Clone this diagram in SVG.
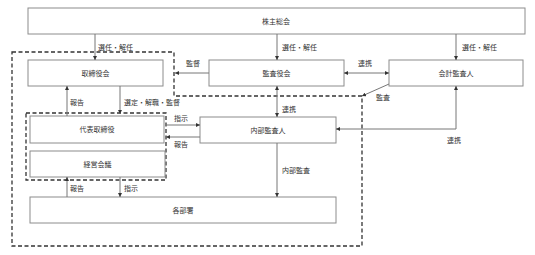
<svg xmlns="http://www.w3.org/2000/svg" width="535" height="255" viewBox="0 0 535 255">
<style>
.box{fill:#fff;stroke:#8c8c8c;stroke-width:1}
.t{font-family:"Noto Sans CJK JP","Noto Sans CJK SC",sans-serif;font-size:7px;fill:#333}
.c{text-anchor:middle}
.ln{fill:none;stroke:#777;stroke-width:1}
.dash{fill:none;stroke:#333;stroke-width:1.3;stroke-dasharray:4 2.5}
</style>
<defs>
<marker id="a" viewBox="0 0 6 6" refX="6" refY="3" markerWidth="4" markerHeight="4" orient="auto-start-reverse" markerUnits="userSpaceOnUse">
<path d="M0,0 L6,3 L0,6 z" fill="#333"/>
</marker>
</defs>
<rect width="535" height="255" fill="#fff"/>
<g id="dashed">
<path class="dash" d="M12,52 H174 V96 H362 V246 H12 Z"/>
<rect class="dash" x="26" y="113" width="140" height="67"/>
</g>
<g id="n-kabunushi"><rect class="box" x="28" y="8" width="497" height="26"/><text class="t c" x="276" y="23.5">株主総会</text></g>
<g id="n-torishimariyaku"><rect class="box" x="28" y="60" width="135" height="26"/><text class="t c" x="95.5" y="75.5">取締役会</text></g>
<g id="n-kansayaku"><rect class="box" x="209" y="60" width="135" height="26"/><text class="t c" x="276.5" y="75.5">監査役会</text></g>
<g id="n-kaikei"><rect class="box" x="389" y="60" width="134" height="26"/><text class="t c" x="456" y="75.5">会計監査人</text></g>
<g id="n-daihyo"><rect class="box" x="30" y="116" width="134" height="27"/><text class="t c" x="97" y="132">代表取締役</text></g>
<g id="n-keiei"><rect class="box" x="30" y="151" width="135" height="26"/><text class="t c" x="97.5" y="166.5">経営会議</text></g>
<g id="n-naibu"><rect class="box" x="200" y="117" width="136" height="26"/><text class="t c" x="268" y="132.5">内部監査人</text></g>
<g id="n-kakubusho"><rect class="box" x="30" y="197" width="306" height="26"/><text class="t c" x="183" y="212.5">各部署</text></g>
<g id="connectors">
<line class="ln" x1="95" y1="34" x2="95" y2="60" marker-end="url(#a)"/>
<line class="ln" x1="277" y1="34" x2="277" y2="60" marker-end="url(#a)"/>
<line class="ln" x1="456" y1="34" x2="456" y2="60" marker-end="url(#a)"/>
<line class="ln" x1="209" y1="73" x2="175" y2="73" marker-end="url(#a)"/>
<line class="ln" x1="344" y1="73" x2="389" y2="73" marker-start="url(#a)" marker-end="url(#a)"/>
<line class="ln" x1="389" y1="84" x2="362" y2="96" marker-end="url(#a)"/>
<line class="ln" x1="277" y1="86" x2="277" y2="117" marker-start="url(#a)" marker-end="url(#a)"/>
<path class="ln" d="M456,86 V129 H336" marker-start="url(#a)" marker-end="url(#a)"/>
<line class="ln" x1="120" y1="86" x2="120" y2="114" marker-end="url(#a)"/>
<line class="ln" x1="67" y1="116" x2="67" y2="86" marker-end="url(#a)"/>
<line class="ln" x1="166" y1="125" x2="200" y2="125" marker-end="url(#a)"/>
<line class="ln" x1="200" y1="137" x2="166" y2="137" marker-end="url(#a)"/>
<line class="ln" x1="120" y1="177" x2="120" y2="197" marker-end="url(#a)"/>
<line class="ln" x1="67" y1="197" x2="67" y2="177" marker-end="url(#a)"/>
<line class="ln" x1="277" y1="143" x2="277" y2="197" marker-end="url(#a)"/>
</g>
<g id="labels">
<text class="t" x="98" y="50">選任・解任</text>
<text class="t" x="282" y="50">選任・解任</text>
<text class="t" x="462" y="50">選任・解任</text>
<text class="t" x="186" y="66">監督</text>
<text class="t" x="358" y="66">連携</text>
<text class="t" x="376" y="100">監査</text>
<text class="t" x="282" y="112">連携</text>
<text class="t" x="447" y="143">連携</text>
<text class="t" x="70" y="105">報告</text>
<text class="t" x="124" y="105">選定・解職・監督</text>
<text class="t" x="174" y="121">指示</text>
<text class="t" x="174" y="147">報告</text>
<text class="t" x="70" y="191">報告</text>
<text class="t" x="124" y="191">指示</text>
<text class="t" x="282" y="173">内部監査</text>
</g>
</svg>
